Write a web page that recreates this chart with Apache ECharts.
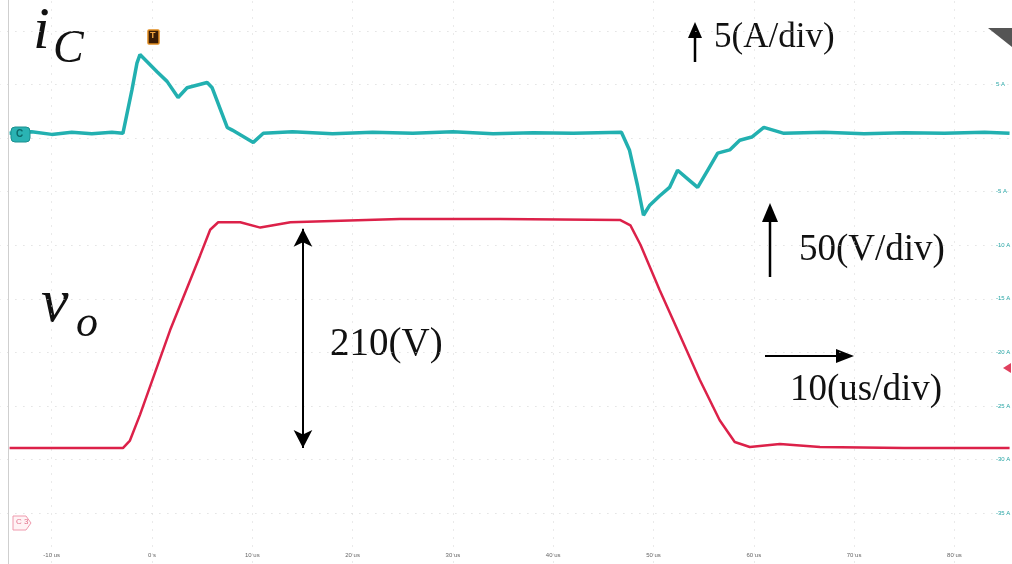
<!DOCTYPE html>
<html>
<head>
<meta charset="utf-8">
<script src="https://cdn.jsdelivr.net/npm/echarts@6/dist/echarts.min.js"></script>
<style>
html,body{margin:0;padding:0;background:#fff;}
#main{width:1012px;height:564px;}
</style>
</head>
<body>
<div id="main"></div>
<script>
// 示波器波形：电容电流 iC 与输出电压 vo
var icTime = [-14.2, -12, -10, -8, -6, -4, -2.9, -2.0, -1.5, -1.2, 0.5, 1.5, 2.6, 3.5, 5.5, 6.0, 7.5, 8.0, 10.1, 11.1,
	14, 18, 22, 26, 30, 34, 38, 42, 46.8, 47.6, 48.4, 49.0, 49.6, 50.6, 51.6, 52.4, 53.4, 54.4, 55.4, 56.4, 57.6, 58.6,
	59.8, 61.0, 63, 67, 71, 75, 79, 83, 85.5];
var icAmp = [0.45, 0.6, 0.35, 0.55, 0.4, 0.55, 0.45, 4.5, 7.0, 7.8, 6.2, 5.3, 3.8, 4.7, 5.2, 4.7, 1.0, 0.75, -0.4, 0.45,
	0.6, 0.4, 0.55, 0.45, 0.6, 0.4, 0.5, 0.45, 0.55, -1.1, -4.4, -7.2, -6.3, -5.4, -4.6, -3.0, -3.8, -4.6, -3.0, -1.4, -1.1, -0.2,
	0.1, 1.0, 0.45, 0.55, 0.4, 0.5, 0.45, 0.55, 0.45];

var voTime = [-14.2, -8, -2.9, -2.2, -1.2, 1.8, 4.8, 5.8, 6.6, 8.8, 10.8, 13.8, 24.7, 34.7, 46.7, 47.7, 48.7, 50.6,
	52.6, 54.6, 56.6, 58.1, 59.6, 62.6, 66.6, 75, 85.5];
var voVolt = [0, 0, 0, 7, 31, 110, 180, 204, 211, 211, 206, 211, 214, 214, 213, 208, 190, 148,
	106, 64, 26, 5.6, 1, 3.7, 1, 0, 0];

var xLabels = {'-10': '-10 us', '0': '0 s'};

function pairs(xs, ys) {
	var out = [];
	for (var i = 0; i < xs.length; i++) out.push([xs[i], ys[i]]);
	return out;
}

var myChart = echarts.init(document.getElementById('main'));
var serif = '"Liberation Serif", "DejaVu Serif", serif';
var option = {
	backgroundColor: '#fff',
	animation: false,
	grid: {
		left: -48.6,
		right: -42.7,
		top: -22.5,
		bottom: -2.5,
		outerBoundsMode: 'none',
		containLabel: false
	},
	xAxis: {
		type: 'value',
		min: -20,
		max: 90,
		interval: 10,
		axisLine: {show: false},
		axisTick: {show: false},
		axisLabel: {
			inside: true,
			margin: 8,
			fontSize: 6,
			color: '#666',
			formatter: function (v) {
				if (v < -10 || v > 80) return '';
				return xLabels[v] || (v + ' us');
			}
		},
		splitLine: {lineStyle: {type: [1, 7], color: '#d4d4d4'}}
	},
	yAxis: [
		{
			type: 'value',
			position: 'right',
			min: -40,
			max: 15,
			interval: 5,
			offset: -58.7,
			axisLine: {show: false},
			axisTick: {show: false},
			axisLabel: {
				margin: 0,
				fontSize: 6,
				color: '#2aa7a7',
				align: 'left',
				formatter: function (v) {
					if (v > 5 || v < -35 || v === 0) return '';
					return v + ' A';
				}
			},
			splitLine: {lineStyle: {type: [1, 7], color: '#d4d4d4'}}
		},
		{
			type: 'value',
			show: false,
			min: -110.7,
			max: 439.7,
			splitLine: {show: false}
		}
	],
	series: [
		{
			name: 'iC',
			type: 'line',
			yAxisIndex: 0,
			data: pairs(icTime, icAmp),
			showSymbol: false,
			lineStyle: {color: '#22b0b0', width: 3.5}
		},
		{
			name: 'vo',
			type: 'line',
			yAxisIndex: 1,
			data: pairs(voTime, voVolt),
			showSymbol: false,
			lineStyle: {color: '#dc2149', width: 2.5},
			markLine: {
				silent: true,
				symbol: ['arrow', 'arrow'],
				symbolSize: [14, 18],
				label: {show: false},
				lineStyle: {color: '#000', width: 2, type: 'solid'},
				data: [[{coord: [15.05, 0]}, {coord: [15.05, 205]}]]
			}
		}
	],
	graphic: [
		{type: 'line', shape: {x1: 8.5, y1: 0, x2: 8.5, y2: 564}, style: {stroke: '#cfcfcf', lineWidth: 1}},
		{type: 'text', left: 33, top: 2, style: {text: 'i', font: 'italic 60px ' + serif, fill: '#111'}},
		{type: 'text', left: 53, top: 27, style: {text: 'C', font: 'italic 46px ' + serif, fill: '#111'}},
		{type: 'text', left: 41, top: 274, style: {text: 'v', font: 'italic 62px ' + serif, fill: '#111'}},
		{type: 'text', left: 76, top: 302, style: {text: 'o', font: 'italic 44px ' + serif, fill: '#111'}},
		// 5(A/div)
		{type: 'line', shape: {x1: 695, y1: 62, x2: 695, y2: 34}, style: {stroke: '#000', lineWidth: 2.5}},
		{type: 'polygon', shape: {points: [[688, 38], [702, 38], [695, 22]]}, style: {fill: '#000'}},
		{type: 'text', x: 714, y: 38, style: {text: '5(A/div)', font: '35px ' + serif, fill: '#111', verticalAlign: 'middle'}},
		// 50(V/div)
		{type: 'line', shape: {x1: 770, y1: 277, x2: 770, y2: 218}, style: {stroke: '#000', lineWidth: 2.5}},
		{type: 'polygon', shape: {points: [[762, 222], [778, 222], [770, 203]]}, style: {fill: '#000'}},
		{type: 'text', x: 799, y: 250, style: {text: '50(V/div)', font: '37px ' + serif, fill: '#111', verticalAlign: 'middle'}},
		// 210(V)
		{type: 'text', x: 330, y: 345, style: {text: '210(V)', font: '39px ' + serif, fill: '#111', verticalAlign: 'middle'}},
		// 10(us/div)
		{type: 'line', shape: {x1: 765, y1: 356, x2: 840, y2: 356}, style: {stroke: '#000', lineWidth: 2}},
		{type: 'polygon', shape: {points: [[836, 349], [836, 363], [854, 356]]}, style: {fill: '#000'}},
		{type: 'text', x: 790, y: 390, style: {text: '10(us/div)', font: '37px ' + serif, fill: '#111', verticalAlign: 'middle'}},
		// 触发标记与通道标记
		{type: 'rect', z: 100, shape: {x: 148, y: 30, width: 11, height: 14, r: 1}, style: {fill: '#3a1c05', stroke: '#e08a1e', lineWidth: 1.5}},
		{type: 'text', z: 101, left: 150, top: 31, style: {text: 'T', font: 'bold 9px sans-serif', fill: '#f2a640'}},
		{type: 'polygon', z: 100, shape: {points: [[988, 28], [1012, 28], [1012, 47]]}, style: {fill: '#555'}},
		{type: 'rect', z: 100, shape: {x: 11, y: 127, width: 19, height: 15, r: 4}, style: {fill: '#2ab3b3', stroke: '#1b8f8f', lineWidth: 1}},
		{type: 'text', z: 101, left: 16, top: 129, style: {text: 'C', font: 'bold 10px sans-serif', fill: '#0d6a6a'}},
		{type: 'polygon', z: 100, shape: {points: [[13, 516], [26, 516], [31, 523], [26, 530], [13, 530]]}, style: {fill: '#fff3f5', stroke: '#ef9aad', lineWidth: 1}},
		{type: 'text', z: 101, left: 16, top: 518, style: {text: 'C 3', font: '8px sans-serif', fill: '#e2708a'}},
		{type: 'polygon', z: 100, shape: {points: [[1003, 368], [1011, 363], [1011, 373]]}, style: {fill: '#e0405e'}}
	]
};
myChart.setOption(option);
</script>
</body>
</html>
